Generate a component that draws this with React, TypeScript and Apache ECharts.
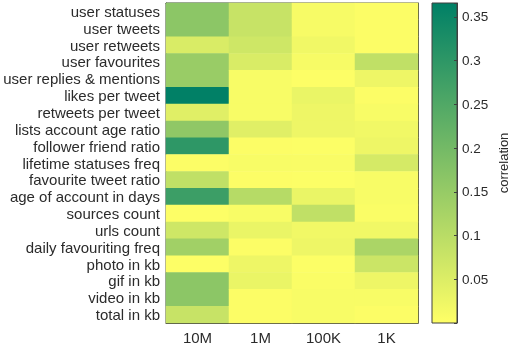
import React, { useEffect, useRef } from "react";
import * as echarts from "echarts";

const features = [
  "user statuses",
  "user tweets",
  "user retweets",
  "user favourites",
  "user replies & mentions",
  "likes per tweet",
  "retweets per tweet",
  "lists account age ratio",
  "follower friend ratio",
  "lifetime statuses freq",
  "favourite tweet ratio",
  "age of account in days",
  "sources count",
  "urls count",
  "daily favouriting freq",
  "photo in kb",
  "gif in kb",
  "video in kb",
  "total in kb",
];
const groups = ["10M", "1M", "100K", "1K"];

const v10M = [0.165, 0.165, 0.055, 0.146, 0.146, 0.365, 0.045, 0.16, 0.3, 0.005, 0.09, 0.28, 0.003, 0.07, 0.135, 0.003, 0.165, 0.165, 0.08];
const v1M = [0.08, 0.08, 0.07, 0.055, 0.01, 0.01, 0.01, 0.045, 0.005, 0.01, 0.005, 0.105, 0.01, 0.03, 0.005, 0.025, 0.03, 0.005, 0.005];
const v100K = [0.012, 0.012, 0.02, 0.012, 0.003, 0.03, 0.025, 0.025, 0.004, 0.008, 0.004, 0.03, 0.09, 0.02, 0.025, 0.004, 0.007, 0.01, 0.01];
const v1K = [0.005, 0.005, 0.005, 0.09, 0.025, 0.005, 0.01, 0.02, 0.025, 0.06, 0.01, 0.01, 0.007, 0.02, 0.12, 0.075, 0.025, 0.01, 0.005];

const colorbarTicks = [0.05, 0.1, 0.15, 0.2, 0.25, 0.3, 0.35];
const vMin = 0;
const vMax = 0.366;

const FONT = "'Liberation Sans', Arial, sans-serif";
const TEXT = "#2b2b2b";
const FRAME = "#404040";
const LOW = "#ffff66";
const HIGH = "#008066";

export default function App() {
  const ref = useRef<HTMLDivElement>(null);
  useEffect(() => {
    if (!ref.current) return;
    const chart = echarts.init(ref.current, undefined, { renderer: "svg" });
    const cols = [v10M, v1M, v100K, v1K];
    const data: number[][] = [];
    cols.forEach((arr, xi) => arr.forEach((v, yi) => data.push([xi, yi, v])));

    const tickStyle = { show: true, inside: true, length: 3, alignWithLabel: true, interval: 0, lineStyle: { color: FRAME } };
    const lineStyle = { show: true, onZero: false, lineStyle: { color: FRAME, width: 1 } };

    chart.setOption({
      animation: false,
      textStyle: { fontFamily: FONT },
      grid: [
        { left: 166, top: 3, width: 252, height: 320, show: true, borderColor: FRAME, borderWidth: 1, backgroundColor: "transparent" },
        {
          left: 432, top: 3, width: 25, height: 320, show: true, borderColor: FRAME, borderWidth: 1,
          backgroundColor: new echarts.graphic.LinearGradient(0, 0, 0, 1, [
            { offset: 0, color: HIGH },
            { offset: 1, color: LOW },
          ]),
        },
      ],
      xAxis: [
        {
          type: "category", data: groups, gridIndex: 0, position: "bottom",
          axisTick: tickStyle, axisLine: lineStyle,
          axisLabel: { fontSize: 15, color: TEXT, margin: 7, fontFamily: FONT, interval: 0 },
          splitLine: { show: false },
        },
        {
          type: "category", data: groups, gridIndex: 0, position: "top",
          axisTick: tickStyle, axisLine: lineStyle, axisLabel: { show: false },
          splitLine: { show: false },
        },
        {
          type: "value", gridIndex: 1, show: false, min: 0, max: 1,
        },
      ],
      yAxis: [
        {
          type: "category", data: features, gridIndex: 0, inverse: true, position: "left",
          axisTick: tickStyle, axisLine: lineStyle,
          axisLabel: { fontSize: 15, color: TEXT, margin: 6, fontFamily: FONT, interval: 0 },
          splitLine: { show: false },
        },
        {
          type: "category", data: features, gridIndex: 0, inverse: true, position: "right",
          axisTick: tickStyle, axisLine: lineStyle, axisLabel: { show: false },
          splitLine: { show: false },
        },
        {
          type: "value", gridIndex: 1, position: "right", min: vMin, max: vMax, interval: 0.05,
          axisLine: lineStyle,
          axisTick: { show: true, inside: true, length: 3, lineStyle: { color: FRAME } },
          axisLabel: {
            fontSize: 13.5, color: TEXT, margin: 5, fontFamily: FONT,
            formatter: (v: number) => {
              const r = Math.round(v * 100) / 100;
              return colorbarTicks.some((t) => Math.abs(t - r) < 1e-9) ? String(r) : "";
            },
          },
          splitLine: { show: false },
          name: "correlation",
          nameLocation: "middle",
          nameRotate: 90,
          nameGap: 40,
          nameTextStyle: { fontSize: 13, color: TEXT, fontFamily: FONT },
        },
      ],
      visualMap: {
        show: false, min: vMin, max: vMax, seriesIndex: 0, dimension: 2,
        inRange: { color: [LOW, HIGH] },
      },
      series: [
        {
          type: "heatmap", xAxisIndex: 0, yAxisIndex: 0, data,
          itemStyle: { borderWidth: 0 },
          emphasis: { disabled: true },
        },
      ],
    });
    return () => chart.dispose();
  }, []);
  return <div ref={ref} style={{ position: "fixed", left: 0, top: 0, width: 513, height: 348 }} />;
}
